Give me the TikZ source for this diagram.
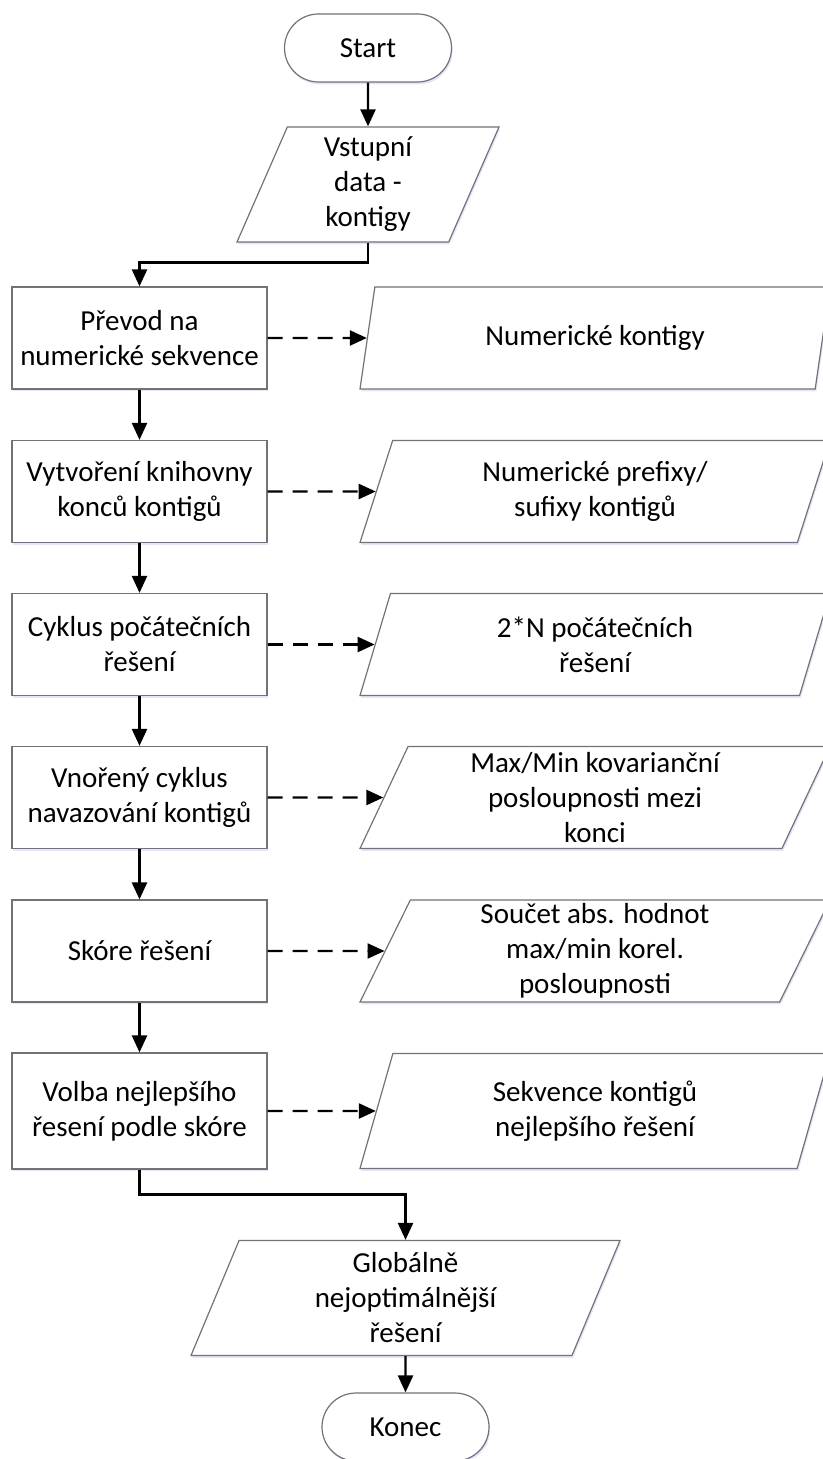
\documentclass[tikz,border=0pt]{standalone}
\usepackage{fontspec}
\setmainfont{Carlito}
\usetikzlibrary{shapes.geometric, shapes.misc, arrows.meta, shadows}

\tikzset{
  box/.style={draw=black!55, line width=0.6pt, fill=white, align=center,
    font=\fontsize{14.5}{17.5}\selectfont, inner sep=1pt,
    drop shadow={shadow xshift=0.6pt, shadow yshift=-1.2pt, fill=blue!20, opacity=0.5}},
  term/.style={box, rounded rectangle, minimum width=85.5pt, minimum height=34pt},
  proc/.style={box, rectangle, minimum width=127.5pt, minimum height=51pt},
  io/.style={box, trapezium, trapezium left angle=63, trapezium right angle=117,
    trapezium stretches body, minimum width=235pt, minimum height=51pt},
  arr/.style={-{Triangle[length=8.5pt,width=7.5pt]}, line width=1.2pt},
  darr/.style={arr, dash pattern=on 7.5pt off 5pt},
}

\begin{document}
\begin{tikzpicture}[x=0.5pt, y=-0.5pt]
    \useasboundingbox (0,0) rectangle (823,1459);
    % main flow
    \node[term] (start) at (368,48) {Start};
    \node[io, minimum width=131pt, minimum height=57.5pt] (vstup) at (368,184.5) {Vstupní\\data -\\kontigy};
    \node[proc] (prevod) at (139.5,338) {Převod na\\numerické sekvence};
    \node[proc] (knih) at (139.5,491.5) {Vytvoření knihovny\\konců kontigů};
    \node[proc] (cyklus) at (139.5,644.5) {Cyklus počátečních\\řešení};
    \node[proc] (vnor) at (139.5,797.5) {Vnořený cyklus\\navazování kontigů};
    \node[proc] (skore) at (139.5,951) {Skóre řešení};
    \node[proc, minimum height=58pt] (volba) at (139.5,1111) {Volba nejlepšího\\řesení podle skóre};
    \node[io, minimum width=214.5pt, minimum height=57.5pt] (glob) at (405.5,1298) {Globálně\\nejoptimálnější\\řešení};
    \node[term] (konec) at (405.5,1427) {Konec};
    % outputs
    \node[io] (numkont) at (595,338) {Numerické kontigy};
    \node[io] (prefix) at (595,491.5) {Numerické prefixy/\\sufixy kontigů};
    \node[io] (pocat) at (595,644.5) {2*N počátečních\\řešení};
    \node[io] (kovar) at (595,797.5) {Max/Min kovarianční\\posloupnosti mezi\\konci};
    \node[io] (soucet) at (595,951) {Součet abs. hodnot\\max/min korel.\\posloupnosti};
    \node[io, minimum height=57.5pt] (sekv) at (595,1111) {Sekvence kontigů\\nejlepšího řešení};

    \draw[arr] (start) -- (vstup);
    \draw[arr] (vstup.south) -- ++(0,20) -| (prevod.north);
    \draw[arr] (prevod) -- (knih);
    \draw[arr] (knih) -- (cyklus);
    \draw[arr] (cyklus) -- (vnor);
    \draw[arr] (vnor) -- (skore);
    \draw[arr] (skore) -- (volba);
    \draw[arr] (volba.south) -- ++(0,25) -| (glob.north);
    \draw[arr] (glob) -- (konec);

    \draw[darr] (prevod.east) -- (numkont.west);
    \draw[darr] (knih.east) -- (prefix.west);
    \draw[darr] (cyklus.east) -- (pocat.west);
    \draw[darr] (vnor.east) -- (kovar.west);
    \draw[darr] (skore.east) -- (soucet.west);
    \draw[darr] (volba.east) -- (sekv.west);
    \end{tikzpicture}
\end{document}
